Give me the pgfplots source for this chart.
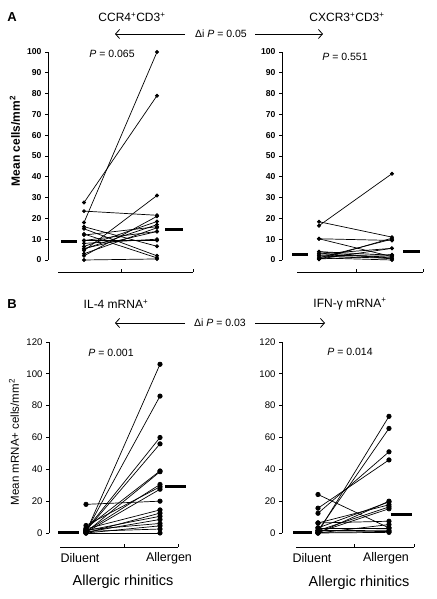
\documentclass[border=0pt]{standalone}
\usepackage{fontspec}
\setmainfont{Liberation Sans}
\usepackage{pgfplots}
\pgfplotsset{compat=1.18}
\usetikzlibrary{arrows.meta}
\newcommand{\fs}[1]{\fontsize{#1}{#1}\selectfont}
\pgfplotsset{
  pair/.style={black, line width=0.7pt, mark=*, mark size=#1, mark options={fill=black}},
  med/.style={black, line width=3pt, no marks},
  base/.style={scale only axis, axis x line=none, axis y line*=left,
    y axis line style={-, line width=0.7pt}, ytick align=outside,
    major tick length=3pt, ytick style={line width=0.7pt, black},
    /pgf/number format/assume math mode=true, clip=false, anchor=south west,
    xtick=\empty, ymin=0},
  panA/.style={base, height=208pt, ymax=100, ytick={0,10,...,100},
    yticklabel style={font=\bfseries\fs{8.6}, xshift=0pt}},
  panB/.style={base, height=191pt, ymax=120, ytick={0,20,...,120},
    yticklabel style={font=\fs{9.6}}},
}
\begin{document}
\begin{tikzpicture}
\useasboundingbox (0pt,0pt) rectangle (436pt,599pt);
% ---------------- Panel A left
\begin{axis}[panA, at={(48pt,339pt)}, width=152pt, xmin=0.507, xmax=2.589]
\addplot[pair=1.6pt] coordinates {(1,18) (2,100)};
\addplot[pair=1.6pt] coordinates {(1,27.6) (2,79)};
\addplot[pair=1.6pt] coordinates {(1,4.5) (2,31)};
\addplot[pair=1.6pt] coordinates {(1,23.5) (2,21.5)};
\addplot[pair=1.6pt] coordinates {(1,2) (2,21)};
\addplot[pair=1.6pt] coordinates {(1,6.5) (2,18.5)};
\addplot[pair=1.6pt] coordinates {(1,5.3) (2,17)};
\addplot[pair=1.6pt] coordinates {(1,12) (2,16)};
\addplot[pair=1.6pt] coordinates {(1,9.4) (2,13.7)};
\addplot[pair=1.6pt] coordinates {(1,8) (2,10)};
\addplot[pair=1.6pt] coordinates {(1,16) (2,6.6)};
\addplot[pair=1.6pt] coordinates {(1,15) (2,2)};
\addplot[pair=1.6pt] coordinates {(1,12.5) (2,1)};
\addplot[pair=1.6pt] coordinates {(1,9.4) (2,9.4)};
\addplot[pair=1.6pt] coordinates {(1,0) (2,0.5)};
\addplot[pair=1.6pt] coordinates {(1,5.5) (2,13.7)};
\addplot[pair=1.6pt] coordinates {(1,3) (2,15.5)};
\addplot[med] coordinates {(0.685,9) (0.904,9)};
\addplot[med] coordinates {(2.11,14.7) (2.356,14.7)};
\end{axis}
% ---------------- Panel A right
\begin{axis}[panA, at={(282pt,339pt)}, width=148pt, xmin=0.493, xmax=2.521]
\addplot[pair=1.6pt] coordinates {(1,16.5) (2,41.5)};
\addplot[pair=1.6pt] coordinates {(1,18.4) (2,11)};
\addplot[pair=1.6pt] coordinates {(1,10.2) (2,9.4)};
\addplot[pair=1.6pt] coordinates {(1,10.2) (2,1.6)};
\addplot[pair=1.6pt] coordinates {(1,4) (2,2.3)};
\addplot[pair=1.6pt] coordinates {(1,1) (2,10)};
\addplot[pair=1.6pt] coordinates {(1,0.3) (2,10.5)};
\addplot[pair=1.6pt] coordinates {(1,2.9) (2,5.6)};
\addplot[pair=1.6pt] coordinates {(1,1.9) (2,0.8)};
\addplot[pair=1.6pt] coordinates {(1,1) (2,0)};
\addplot[pair=1.6pt] coordinates {(1,0.5) (2,2)};
\addplot[pair=1.6pt] coordinates {(1,3) (2,1)};
\addplot[pair=1.6pt] coordinates {(1,2) (2,2.5)};
\addplot[pair=1.6pt] coordinates {(1,4) (2,0.5)};
\addplot[pair=1.6pt] coordinates {(1,0.5) (2,5.6)};
\addplot[med] coordinates {(0.63,2.7) (0.849,2.7)};
\addplot[med] coordinates {(2.151,4) (2.384,4)};
\end{axis}
% ---------------- Panel B left
\begin{axis}[panB, at={(49pt,66pt)}, width=146pt, xmin=0.5, xmax=2.473]
\addplot[pair=2.2pt] coordinates {(1,0.5) (2,106)};
\addplot[pair=2.2pt] coordinates {(1,1) (2,86)};
\addplot[pair=2.2pt] coordinates {(1,2) (2,60)};
\addplot[pair=2.2pt] coordinates {(1,1.5) (2,56)};
\addplot[pair=2.2pt] coordinates {(1,3) (2,39)};
\addplot[pair=2.2pt] coordinates {(1,0.5) (2,38.5)};
\addplot[pair=2.2pt] coordinates {(1,1) (2,30.5)};
\addplot[pair=2.2pt] coordinates {(1,4.7) (2,29)};
\addplot[pair=2.2pt] coordinates {(1,0.4) (2,27.5)};
\addplot[pair=2.2pt] coordinates {(1,18) (2,20)};
\addplot[pair=2.2pt] coordinates {(1,2.6) (2,14.5)};
\addplot[pair=2.2pt] coordinates {(1,0) (2,12.5)};
\addplot[pair=2.2pt] coordinates {(1,1.5) (2,10.5)};
\addplot[pair=2.2pt] coordinates {(1,0.5) (2,8.5)};
\addplot[pair=2.2pt] coordinates {(1,2) (2,6)};
\addplot[pair=2.2pt] coordinates {(1,0) (2,4.5)};
\addplot[pair=2.2pt] coordinates {(1,1) (2,2.5)};
\addplot[pair=2.2pt] coordinates {(1,0) (2,0)};
\addplot[med] coordinates {(0.622,0.4) (0.905,0.4)};
\addplot[med] coordinates {(2.068,29.3) (2.351,29.3)};
\end{axis}
% ---------------- Panel B right
\begin{axis}[panB, at={(282pt,66pt)}, width=138pt, xmin=0.493, xmax=2.437]
\addplot[pair=2.2pt] coordinates {(1,24.2) (2,3.2)};
\addplot[pair=2.2pt] coordinates {(1,0.4) (2,73.3)};
\addplot[pair=2.2pt] coordinates {(1,1.5) (2,65.7)};
\addplot[pair=2.2pt] coordinates {(1,12.4) (2,51)};
\addplot[pair=2.2pt] coordinates {(1,15.6) (2,45.9)};
\addplot[pair=2.2pt] coordinates {(1,6.3) (2,17.7)};
\addplot[pair=2.2pt] coordinates {(1,3.2) (2,19.5)};
\addplot[pair=2.2pt] coordinates {(1,0) (2,20)};
\addplot[pair=2.2pt] coordinates {(1,1.5) (2,16.4)};
\addplot[pair=2.2pt] coordinates {(1,0.4) (2,15.2)};
\addplot[pair=2.2pt] coordinates {(1,6.3) (2,7.4)};
\addplot[pair=2.2pt] coordinates {(1,0) (2,5.3)};
\addplot[pair=2.2pt] coordinates {(1,1.5) (2,1.7)};
\addplot[pair=2.2pt] coordinates {(1,0) (2,0.4)};
\addplot[pair=2.2pt] coordinates {(1,3.2) (2,3.2)};
\addplot[pair=2.2pt] coordinates {(1,0.4) (2,1)};
\addplot[med] coordinates {(0.648,0.4) (0.915,0.4)};
\addplot[med] coordinates {(2.028,11.6) (2.324,11.6)};
\end{axis}
% ---------------- decorations: bottom lines
\begin{scope}[line width=0.7pt]
\draw (58pt,327pt) -- (193pt,327pt) (121pt,327pt) -- (121pt,330pt) (193pt,327pt) -- (193pt,330pt);
\draw (297pt,327pt) -- (423pt,327pt) (356pt,327pt) -- (356pt,330pt) (423pt,327pt) -- (423pt,330pt);
\draw (60pt,52pt) -- (178pt,52pt) (124pt,52pt) -- (124pt,55pt) (178pt,52pt) -- (178pt,55pt);
\draw (296pt,52pt) -- (414pt,52pt) (354pt,52pt) -- (354pt,55pt) (414pt,52pt) -- (414pt,55pt);
\end{scope}
% ---------------- texts
\node[inner sep=0pt, font=\bfseries\fs{13}] at (12pt,582pt) {A};
\node[inner sep=0pt, font=\bfseries\fs{13}] at (12pt,295pt) {B};
\node[inner sep=0pt, font=\fs{12}] at (132pt,582pt) {CCR4\textsuperscript{+}CD3\textsuperscript{+}};
\node[inner sep=0pt, font=\fs{12}] at (347pt,582pt) {CXCR3\textsuperscript{+}CD3\textsuperscript{+}};
\node[inner sep=0pt, font=\fs{12}] at (116pt,295pt) {IL-4 mRNA\textsuperscript{+}};
\node[inner sep=0pt, font=\fs{12}] at (350pt,295pt) {IFN-γ mRNA\textsuperscript{+}};
\begin{scope}[line width=0.8pt, -{Straight Barb[length=4pt,width=9pt]}]
\draw (185pt,565pt) -- (115pt,565pt);
\draw (255pt,565pt) -- (323pt,565pt);
\draw (185pt,276pt) -- (115pt,276pt);
\draw (255pt,276pt) -- (325pt,276pt);
\end{scope}
\node[inner sep=0pt, font=\fs{10.5}] at (221pt,565pt) {Δi \textit{P} = 0.05};
\node[inner sep=0pt, font=\fs{10.5}] at (220pt,276pt) {Δi \textit{P} = 0.03};
\node[inner sep=0pt, font=\fs{10.5}] at (112pt,545pt) {\textit{P} = 0.065};
\node[inner sep=0pt, font=\fs{10.5}] at (345pt,542pt) {\textit{P} = 0.551};
\node[inner sep=0pt, font=\fs{10.5}] at (111pt,246pt) {\textit{P} = 0.001};
\node[inner sep=0pt, font=\fs{10.5}] at (350pt,247pt) {\textit{P} = 0.014};
\node[inner sep=0pt, rotate=90, font=\bfseries\fs{12}] at (15pt,458pt) {Mean cells/mm\textsuperscript{2}};
\node[inner sep=0pt, rotate=90, font=\fs{11.5}] at (14pt,157pt) {Mean mRNA+ cells/mm\textsuperscript{2}};
\node[inner sep=0pt, font=\fs{12.5}] at (80pt,41pt) {Diluent};
\node[inner sep=0pt, font=\fs{12.5}] at (169pt,41pt) {Allergen};
\node[inner sep=0pt, font=\fs{12.5}] at (312pt,41pt) {Diluent};
\node[inner sep=0pt, font=\fs{12.5}] at (386pt,41pt) {Allergen};
\node[inner sep=0pt, font=\fs{14.5}] at (123pt,17pt) {Allergic rhinitics};
\node[inner sep=0pt, font=\fs{14.5}] at (359pt,16pt) {Allergic rhinitics};
\end{tikzpicture}
\end{document}
